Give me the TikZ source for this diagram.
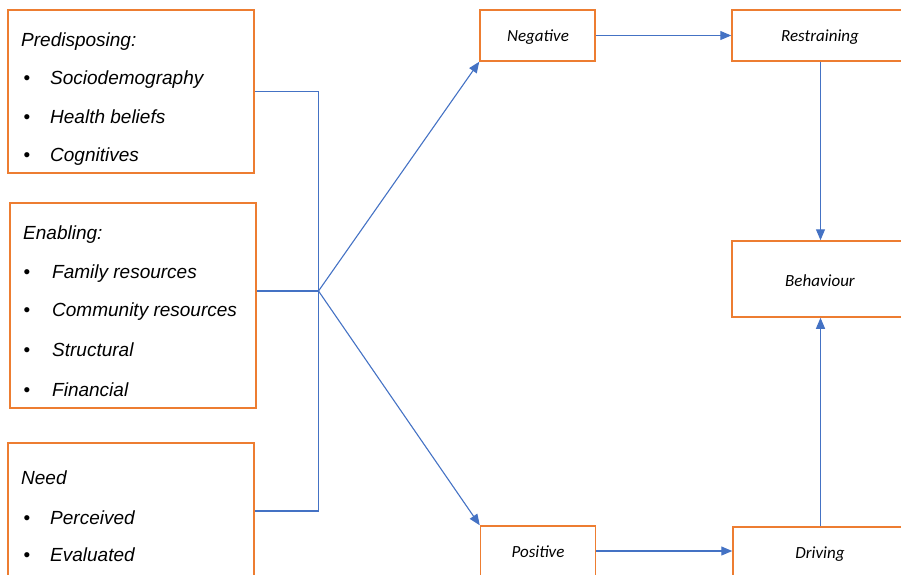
\documentclass[tikz,border=0pt]{standalone}
\usepackage{fontspec}
\setmainfont{Liberation Sans}
\newfontfamily\calib{Carlito}
\usetikzlibrary{arrows.meta}
\definecolor{boxorange}{HTML}{ED7D31}
\definecolor{lineblue}{HTML}{4472C4}
\tikzset{
  obox/.style={draw=boxorange, line width=1.5pt, fill=white, rectangle, inner sep=0pt},
  conn/.style={draw=lineblue, line width=1.1pt},
  arr/.style={conn, -{Triangle[length=11pt,width=9pt]}},
  lt/.style={font=\fontsize{19}{22}\selectfont\itshape, anchor=west, inner sep=0pt},
  bul/.style={font=\fontsize{19}{22}\selectfont, inner sep=0pt, anchor=base},
  rt/.style={font=\calib\fontsize{17}{20}\selectfont\itshape, inner sep=0pt}
}
\begin{document}
\begin{tikzpicture}[x=1pt,y=-1pt]
\useasboundingbox (0,0) rectangle (901,574);
\clip (0,0) rectangle (901,574);
\coordinate (BX) at (27,0);
% left boxes
\node[obox, minimum width=246pt, minimum height=163pt] (pre) at (131,91.5) {};
\node[obox, minimum width=246pt, minimum height=205pt] (enb) at (133,305.5) {};
\node[obox, minimum width=246pt, minimum height=136pt] (need) at (131,511) {};
% right boxes
\node[obox, minimum width=115pt, minimum height=51pt] (neg) at (537.5,35.5) {};
\node[obox, minimum width=190pt, minimum height=51pt] (res) at (827,35.5) {};
\node[obox, minimum width=190pt, minimum height=76pt] (beh) at (827,279) {};
\node[obox, minimum width=115pt, minimum height=50pt] (pos) at (538,551) {};
\node[obox, minimum width=190pt, minimum height=50pt] (drv) at (828,552) {};
% left texts
\node[lt] (t1) at (21,42) {Predisposing:};
\node[lt] (t2) at (50,80) {Sociodemography};
\node[bul] (b1) at (t2.base -| BX) {•};
\node[lt] (t3) at (50,117) {Health beliefs};
\node[bul] (b2) at (t3.base -| BX) {•};
\node[lt] (t4) at (50,157) {Cognitives};
\node[bul] (b3) at (t4.base -| BX) {•};
\node[lt] (u1) at (23,235) {Enabling:};
\node[lt] (u2) at (52,274) {Family resources};
\node[bul] (c1) at (u2.base -| BX) {•};
\node[lt] (u3) at (52,312) {Community resources};
\node[bul] (c2) at (u3.base -| BX) {•};
\node[lt] (u4) at (52,350) {Structural};
\node[bul] (c3) at (u4.base -| BX) {•};
\node[lt] (u5) at (52,390) {Financial};
\node[bul] (c4) at (u5.base -| BX) {•};
\node[lt] (v1) at (21,478) {Need};
\node[lt] (v2) at (50,518) {Perceived};
\node[bul] (d1) at (v2.base -| BX) {•};
\node[lt] (v3) at (50,555) {Evaluated};
\node[bul] (d2) at (v3.base -| BX) {•};
% right texts
\node[rt] (n1) at (538,37) {Negative};
\node[rt] (n2) at (820,37) {Restraining};
\node[rt] (n3) at (820,281) {Behaviour};
\node[rt] (n4) at (538,552) {Positive};
\node[rt] (n5) at (820,554) {Driving};
% connectors
\coordinate (J) at (318.5,291);
\coordinate (X) at (820.5,0);
\draw[conn] (pre.east) -| (J) |- (need.east);
\draw[conn] (enb.east |- J) -- (J);
\draw[arr] (J) -- (neg.south west);
\draw[arr] (J) -- (pos.north west);
\draw[arr] (neg.east) -- (res.west |- neg.east);
\draw[arr] (pos.east) -- (drv.west |- pos.east);
\draw[arr] (res.south -| X) -- (beh.north -| X);
\draw[arr] (drv.north -| X) -- (beh.south -| X);
\end{tikzpicture}
\end{document}
